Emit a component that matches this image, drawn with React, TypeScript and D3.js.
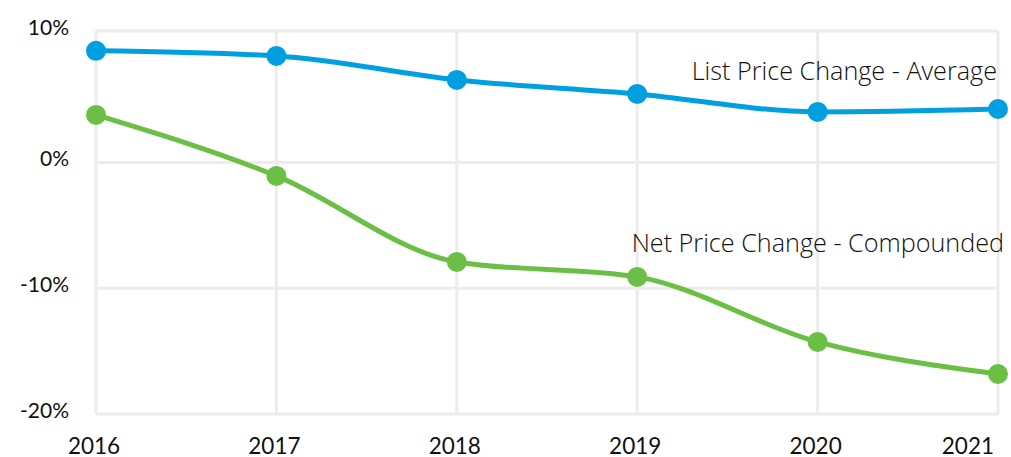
import * as d3 from "d3";

const years = ["2016", "2017", "2018", "2019", "2020", "2021"];
const listPrice = [8.87, 8.47, 6.56, 5.45, 4.02, 4.25];
const netPrice = [3.78, -1.07, -7.91, -9.1, -14.27, -16.82];
const yTicks = [10, 0, -10, -20];
const yTickLabels = ["10%", "0%", "-10%", "-20%"];

const W = 1011;
const H = 457;
const BLUE = "#009fdf";
const GREEN = "#6cbf45";
const GRID = "#ececec";
const FONT = "Lato, 'Open Sans', sans-serif";

export default function App() {
  const x = d3.scalePoint<string>().domain(years).range([96, 998]);
  const y = d3.scaleLinear().domain([-20, 10.45]).range([414, 31]);

  const line = d3
    .line<number>()
    .x((_, i) => x(years[i]) as number)
    .y((d) => y(d))
    .curve(d3.curveMonotoneX);

  const series = [
    { values: listPrice, color: BLUE },
    { values: netPrice, color: GREEN },
  ];

  // top grid line sits at the plot's upper edge, its label reads 10%
  const tickY = (t: number, i: number) => (i === 0 ? y(10.45) : y(t));

  return (
    <div style={{ position: "fixed", left: 0, top: 0 }}>
      <svg width={W} height={H} style={{ display: "block", background: "#fff" }}>
        {/* grid */}
        <g stroke={GRID} strokeWidth={3}>
          {years.map((yr) => (
            <line key={yr} x1={x(yr)} x2={x(yr)} y1={y(10.45)} y2={y(-20)} />
          ))}
          {yTicks.map((t, i) => (
            <line key={t} x1={96} x2={998} y1={tickY(t, i)} y2={tickY(t, i)} />
          ))}
        </g>

        {/* y labels */}
        <g fontFamily={FONT} fontSize={21} fill="#111" textAnchor="end">
          {yTicks.map((t, i) => (
            <text key={t} x={69} y={tickY(t, i) + 4}>
              {yTickLabels[i]}
            </text>
          ))}
        </g>

        {/* x labels */}
        <g fontFamily={FONT} fontSize={22.5} fill="#111">
          {years.map((yr, i) => (
            <text
              key={yr}
              x={i === years.length - 1 ? 994 : (x(yr) as number) - 2}
              y={454}
              textAnchor={i === years.length - 1 ? "end" : "middle"}
            >
              {yr}
            </text>
          ))}
        </g>

        {/* lines + points */}
        {series.map((s, si) => (
          <g key={si}>
            <path d={line(s.values) || ""} fill="none" stroke={s.color} strokeWidth={5} />
            {s.values.map((v, i) => (
              <circle key={i} cx={x(years[i])} cy={y(v)} r={10} fill={s.color} />
            ))}
          </g>
        ))}

        {/* series labels */}
        <g
          fontFamily="'Open Sans', sans-serif"
          fontWeight={300}
          fontSize={25.2}
          fill="#111"
          textAnchor="end"
        >
          <text x={997} y={80}>List Price Change - Average</text>
          <text x={1004} y={252}>Net Price Change - Compounded</text>
        </g>
      </svg>
    </div>
  );
}
